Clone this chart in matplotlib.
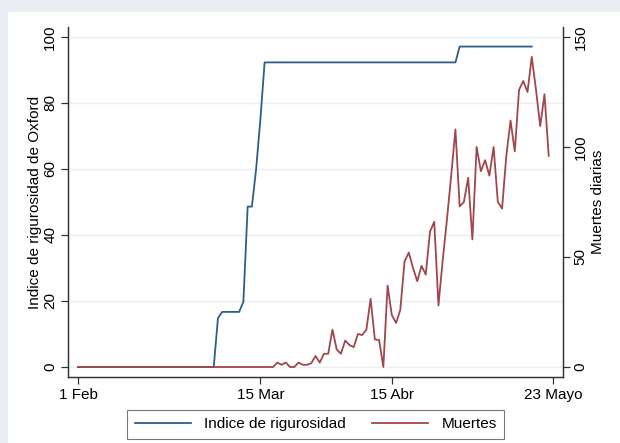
import matplotlib
matplotlib.use("Agg")
import matplotlib.pyplot as plt
import matplotlib.patches as mpatches
import numpy as np
import pandas as pd

plt.rcParams['font.family'] = ['Liberation Sans', 'DejaVu Sans']

# ---------- DATA ----------
start = "2020-02-01"

# Oxford stringency index, one value per day from 1 Feb
stringency = ([0.0] * 33 + [14.8] + [16.7] * 5 + [19.8, 48.6, 48.6, 60.0, 75.0]
              + [92.3] * 46 + [97.1] * 18)

# daily deaths, one value per day from 1 Feb
deaths = ([0] * 47 +
          [2, 1, 2, 0, 0, 2, 1, 1, 1.7, 5, 2, 6, 6, 17, 8, 6, 12, 10, 9, 15,
           14.5, 17, 31, 12.5, 12.3, 0, 37, 23.6, 20, 26, 48, 52, 45, 39, 46,
           42, 61.5, 66, 28, 48.6, 67, 87, 108, 73, 75, 86, 58, 100, 89, 94,
           87, 100, 75, 72, 96, 112, 98, 126, 130, 125, 141, 126, 109.5, 124, 96])

tick_dates = ["2020-02-01", "2020-03-15", "2020-04-15", "2020-05-23"]
tick_labels = ["1 Feb", "15 Mar", "15 Abr", "23 Mayo"]

left_ticks = [0, 20, 40, 60, 80, 100]
right_ticks = [0, 50, 100, 150]

# ---------- PLOT ----------
s_dates = pd.date_range(start, periods=len(stringency))
d_dates = pd.date_range(start, periods=len(deaths))

fs = 11

fig = plt.figure(figsize=(6.2, 4.43), dpi=100)
fig.patch.set_facecolor("#eaeef2")
bg = mpatches.Rectangle((8 / 620, 0), 1, 1 - 12 / 443, transform=fig.transFigure,
                        facecolor="white", edgecolor="none", zorder=-10)
fig.add_artist(bg)

ax = fig.add_axes([0.1102, 0.149, 0.7974, 0.7901])
ax.set_facecolor("none")
ax2 = ax.twinx()

blue = "#2f5e8a"
red = "#a0474d"

l1, = ax.plot(s_dates, stringency, color=blue, lw=1.3)
l2, = ax2.plot(d_dates, deaths, color=red, lw=1.3)

x0 = pd.Timestamp(start)
ax.set_xlim(x0 - pd.Timedelta(days=2.29), x0 + pd.Timedelta(days=114.3))
ax.set_ylim(-3.03, 103.03)
ax2.set_ylim(-4.55, 154.55)

ax.set_xticks(pd.to_datetime(tick_dates))
ax.set_xticklabels(tick_labels)
ax.set_yticks(left_ticks)
ax.set_yticklabels([str(t) for t in left_ticks], rotation=90, va="center")
ax2.set_yticks(right_ticks)
ax2.set_yticklabels([str(t) for t in right_ticks], rotation=90, va="center")

ax.grid(axis="y", color="#e6eff1", lw=1)
ax.set_axisbelow(True)

for a in (ax, ax2):
    a.spines["top"].set_visible(False)
    for s in ("left", "right", "bottom"):
        a.spines[s].set_color("#333333")
        a.spines[s].set_linewidth(0.9)
    a.tick_params(colors="#333333", labelcolor="black", length=5, width=0.9,
                  labelsize=fs, pad=3)

ax.set_ylabel("Indice de rigurosidad de Oxford", fontsize=fs, labelpad=1)
ax2.set_ylabel("Muertes diarias", fontsize=fs, rotation=90, labelpad=2)

leg = ax.legend([l1, l2], ["Indice de rigurosidad", "Muertes"], ncol=2,
                loc="upper center", bbox_to_anchor=(0.5, -0.072),
                frameon=True, fancybox=False, fontsize=fs,
                handlelength=3.7, handletextpad=0.85, columnspacing=1.7,
                borderpad=0.5, borderaxespad=0.5)
leg.get_frame().set_edgecolor("#555555")
leg.get_frame().set_linewidth(0.8)

fig.savefig("out.png", dpi=100, facecolor=fig.get_facecolor())
